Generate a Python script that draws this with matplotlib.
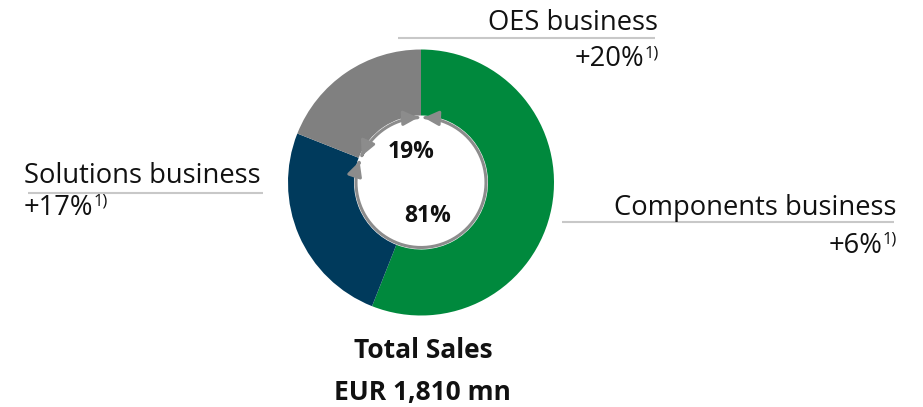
import numpy as np
import matplotlib
matplotlib.use("Agg")
import matplotlib.pyplot as plt
from matplotlib.patches import FancyArrowPatch
from matplotlib.path import Path

# ---- data ----
segments = ["Components business", "Solutions business", "OES business"]
shares = [56, 25, 19]
growth = ["+6%", "+17%", "+20%"]
footnote = "1)"
seg_colors = ["#00893D", "#003A5C", "#808080"]
ring_groups = [("81%", [0, 1]), ("19%", [2])]
title_lines = ["Total Sales", "EUR 1,810 mn"]

FONT = "Open Sans"
W, H = 923, 407
fig = plt.figure(figsize=(W / 100, H / 100), dpi=100)
ax = fig.add_axes([0, 0, 1, 1])

def Y(y):
    return H - y

cx, cy = 421, 182.5
R_out, R_in, R_ring = 133, 67, 65

ax.pie(shares, colors=seg_colors, startangle=90, counterclock=False,
       center=(cx, Y(cy)), radius=R_out,
       wedgeprops=dict(width=R_out - R_in, linewidth=0))
ax.set_xlim(0, W)
ax.set_ylim(0, H)
ax.set_aspect("equal")
ax.axis("off")

# ring with arrows: clock angles (deg from top, clockwise)
total = sum(shares)
cum = np.concatenate([[0], np.cumsum(shares)]) / total * 360
gap = 2.5
ring_col = "#8C8C8C"
for label, idx in ring_groups:
    a0 = cum[idx[0]] + gap
    a1 = cum[idx[-1] + 1] - gap
    t = np.radians(np.linspace(a0, a1, 300))
    xs = cx + R_ring * np.sin(t)
    ys = Y(cy) + R_ring * np.cos(t)
    p = Path(np.column_stack([xs, ys]))
    arr = FancyArrowPatch(path=p, arrowstyle="<|-|>,head_length=0.8,head_width=0.4",
                          mutation_scale=11, color=ring_col, lw=2.2,
                          shrinkA=0, shrinkB=0)
    ax.add_patch(arr)

ax.text(411, Y(158), "19%", fontsize=16.5, fontweight="bold", family=FONT,
        ha="center", va="baseline", color="#111111")
ax.text(428, Y(222), "81%", fontsize=16.5, fontweight="bold", family=FONT,
        ha="center", va="baseline", color="#111111")

ax.text(423, Y(358), title_lines[0], fontsize=19, fontweight="bold", family=FONT,
        ha="center", va="baseline", color="#111111")
ax.text(422, Y(400), title_lines[1], fontsize=19, fontweight="bold", family=FONT,
        ha="center", va="baseline", color="#111111")

fs = 19.7
fs_sup = 12
line_col = "#C8C8C8"
fig.canvas.draw()
rend = fig.canvas.get_renderer()

def width_of(txt):
    return txt.get_window_extent(rend).width

def growth_label(x, y, s, align):
    # x: left or right edge
    if align == "right":
        sup = ax.text(x, Y(y) + 9, footnote, fontsize=fs_sup, family=FONT,
                      ha="right", va="baseline", color="#111111")
        w = width_of(sup)
        ax.text(x - w, Y(y), s, fontsize=fs, family=FONT,
                ha="right", va="baseline", color="#111111")
    else:
        main = ax.text(x, Y(y), s, fontsize=fs, family=FONT,
                       ha="left", va="baseline", color="#111111")
        w = width_of(main)
        ax.text(x + w, Y(y) + 9, footnote, fontsize=fs_sup, family=FONT,
                ha="left", va="baseline", color="#111111")

# OES
ax.text(658, Y(30), segments[2], fontsize=fs, family=FONT, ha="right", va="baseline", color="#111111")
ax.plot([398, 655], [Y(38), Y(38)], color=line_col, lw=1.5, solid_capstyle="butt")
growth_label(659, 66, growth[2], "right")

# Solutions
ax.text(24, Y(183), segments[1], fontsize=fs, family=FONT, ha="left", va="baseline", color="#111111")
ax.plot([28, 263], [Y(193), Y(193)], color=line_col, lw=1.5, solid_capstyle="butt")
growth_label(24, 215, growth[1], "left")

# Components
ax.text(896, Y(215), segments[0], fontsize=fs, family=FONT, ha="right", va="baseline", color="#111111")
ax.plot([562, 894], [Y(222), Y(222)], color=line_col, lw=1.5, solid_capstyle="butt")
growth_label(897, 253, growth[0], "right")

fig.savefig("out.png", dpi=100)
